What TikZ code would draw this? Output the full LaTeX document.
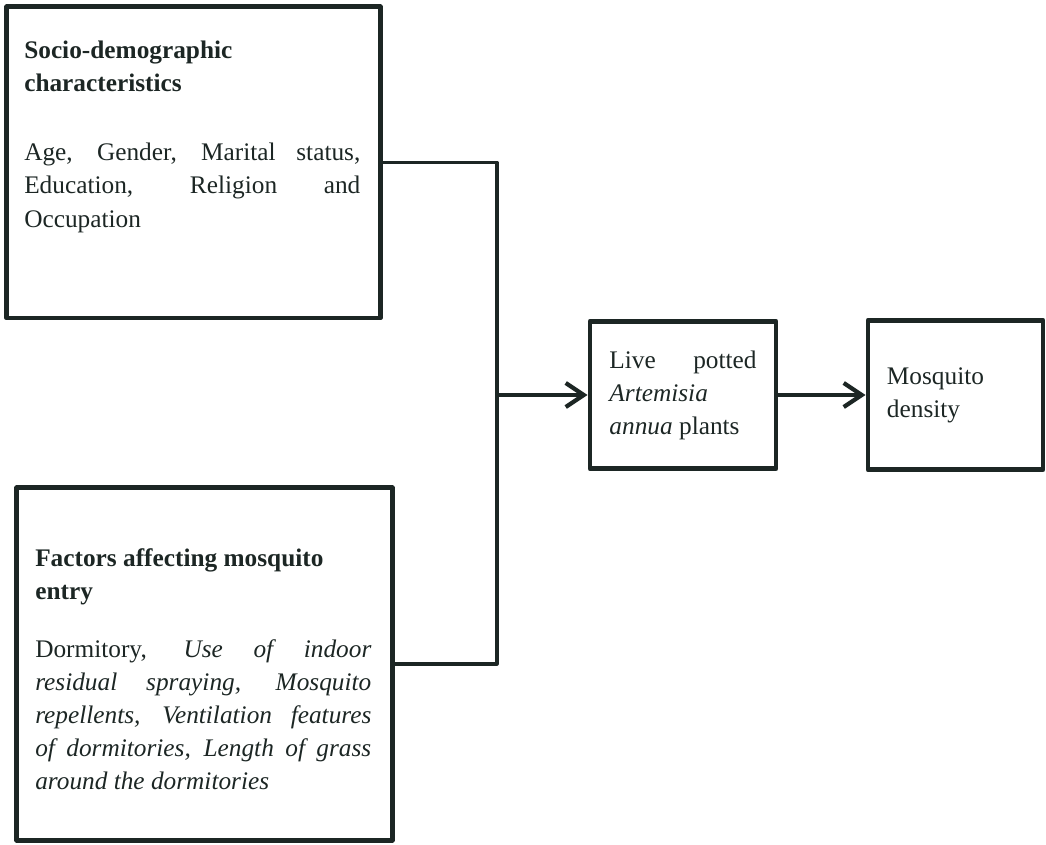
\documentclass[tikz,border=0pt]{standalone}
\usepackage{fontspec}
\setmainfont{Liberation Serif}
\usetikzlibrary{arrows.meta}
\definecolor{ink}{HTML}{1C2624}
\begin{document}
\begin{tikzpicture}[x=0.025cm,y=-0.025cm,line join=round,color=ink,
  font={\fontsize{18}{23.5}\selectfont\hyphenpenalty=10000},
  frame/.style={draw,line width=3.5pt,inner sep=0pt},
  txt/.style={inner sep=0pt,text width=8.4cm,align=justify,anchor=north west},
  link/.style={line width=2.2pt},
  arr/.style={line width=3pt,-{Straight Barb[length=4.5mm,width=6mm]}}]
\useasboundingbox (0,0) rectangle (1046,845);
% left boxes
\node[frame,minimum width=9.325cm,minimum height=7.775cm] (socio) at (193.5,162.5) {};
\node[txt] (sociotxt) at (24,41) {\textbf{Socio-demographic}\\\textbf{characteristics}\\[0.9cm]
  Age, Gender, Marital status,\linebreak Education, Religion and\linebreak Occupation};
\node[frame,minimum width=9.375cm,minimum height=8.8cm] (factors) at (204.5,664) {};
\node[txt] (factorstxt) at (35,548) {\textbf{Factors affecting mosquito}\\\textbf{entry}\\[0.625cm]
  Dormitory, \textit{Use of indoor\linebreak residual spraying, Mosquito\linebreak repellents, Ventilation features\linebreak of dormitories, Length of grass\linebreak around the dormitories}};
% right boxes
\node[frame,minimum width=4.65cm,minimum height=3.675cm,text width=3.675cm,align=justify] (artemisia) at (683,395)
  {Live potted \textit{Artemisia annua} plants};
\node[frame,minimum width=4.375cm,minimum height=3.725cm,text width=3.425cm,align=left] (density) at (955.5,395)
  {Mosquito density};
% connectors
\coordinate (jn) at (497,395);
\draw[link] (socio.east) -| (jn) |- (factors.east);
\draw[arr] (jn) -- (artemisia.west);
\draw[arr] (artemisia) -- (density);
\end{tikzpicture}
\end{document}
